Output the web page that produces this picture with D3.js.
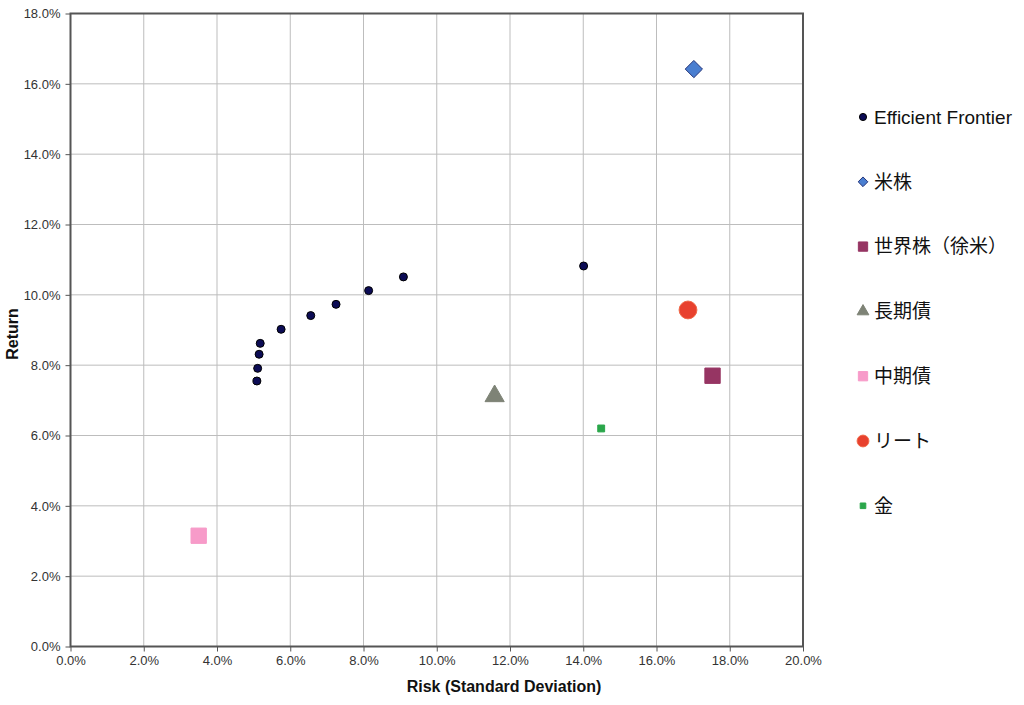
<!DOCTYPE html>
<html>
<head>
<meta charset="utf-8">
<script src="https://cdn.jsdelivr.net/npm/d3@7"></script>
<style>
  body { margin: 0; background: #fff; }
  .tick text { font-family: "Liberation Sans", Arial, sans-serif; font-size: 13px; fill: #333; }
  .axisText { font-family: "Liberation Sans", Arial, sans-serif; font-size: 16px; font-weight: bold; fill: #111; }
  .legendText { font-family: "Liberation Sans", "Noto Sans CJK JP", sans-serif; font-size: 19px; fill: #111; }
</style>
</head>
<body>
<div id="scatter"></div>
<script>
// Efficient frontier points (risk, return in %)
var frontierRisk = [5.09, 5.11, 5.15, 5.18, 5.75, 6.56, 7.25, 8.14, 9.09, 14.01];
var frontierReturn = [7.55, 7.91, 8.31, 8.62, 9.02, 9.41, 9.73, 10.12, 10.51, 10.82];

// Single asset classes
var assetNames = ["米株", "世界株（徐米）", "長期債", "中期債", "リート", "金"];
var assetRisk = [17.02, 17.53, 11.58, 3.50, 16.86, 14.49];
var assetReturn = [16.42, 7.70, 7.12, 3.15, 9.57, 6.20];

var legendLabels = ["Efficient Frontier", "米株", "世界株（徐米）", "長期債", "中期債", "リート", "金"];

var xTicks = [0, 2, 4, 6, 8, 10, 12, 14, 16, 18, 20];
var yTicks = [0, 2, 4, 6, 8, 10, 12, 14, 16, 18];

var svgWidth = 1024;
var svgHeight = 705;

var margin = { top: 13.5, right: 221, bottom: 58.5, left: 70.5 };
var width = svgWidth - margin.left - margin.right;
var height = svgHeight - margin.top - margin.bottom;

var svg = d3.select("#scatter")
  .append("svg")
  .attr("width", svgWidth)
  .attr("height", svgHeight);

var chartGroup = svg.append("g")
  .attr("transform", `translate(${margin.left}, ${margin.top})`);

var xScale = d3.scaleLinear().domain([0, 20]).range([0, width]);
var yScale = d3.scaleLinear().domain([0, 18]).range([height, 0]);

// grid lines
chartGroup.append("g")
  .selectAll("line")
  .data(xTicks.slice(1, -1))
  .enter()
  .append("line")
  .attr("x1", d => xScale(d)).attr("x2", d => xScale(d))
  .attr("y1", 0).attr("y2", height)
  .attr("stroke", "#bdbdbd").attr("stroke-width", 1);

chartGroup.append("g")
  .selectAll("line")
  .data(yTicks.slice(1, -1))
  .enter()
  .append("line")
  .attr("x1", 0).attr("x2", width)
  .attr("y1", d => yScale(d)).attr("y2", d => yScale(d))
  .attr("stroke", "#bdbdbd").attr("stroke-width", 1);

// frame
chartGroup.append("rect")
  .attr("width", width).attr("height", height)
  .attr("fill", "none").attr("stroke", "#555").attr("stroke-width", 2);

var fmt = d => d.toFixed(1) + "%";

var bottomAxis = d3.axisBottom(xScale).tickValues(xTicks).tickFormat(fmt).tickSize(5).tickPadding(4);
var leftAxis = d3.axisLeft(yScale).tickValues(yTicks).tickFormat(fmt).tickSize(5).tickPadding(5);

var xg = chartGroup.append("g")
  .attr("transform", `translate(0, ${height})`)
  .call(bottomAxis);
var yg = chartGroup.append("g").call(leftAxis);
[xg, yg].forEach(function(g) {
  g.select(".domain").remove();
  g.selectAll(".tick line").attr("stroke", "#555");
});

// symbols
function shape(type, size) {
  return d3.symbol().type(type).size(size)();
}

var frontier = frontierRisk.map((r, i) => ({ risk: r, ret: frontierReturn[i] }));

chartGroup.selectAll(".ef")
  .data(frontier)
  .enter()
  .append("circle")
  .attr("class", "ef")
  .attr("cx", d => xScale(d.risk))
  .attr("cy", d => yScale(d.ret))
  .attr("r", 4)
  .attr("fill", "#0c0c55")
  .attr("stroke", "#000")
  .attr("stroke-width", 1);

var styles = [
  { type: d3.symbolDiamond2, size: 190, fill: "#4a7ed0", stroke: "#26357a" },
  { type: d3.symbolSquare2, size: 300, fill: "#963563", stroke: "#963563" },
  { type: d3.symbolTriangle, size: 160, fill: "#7e8376", stroke: "#7e8376" },
  { type: d3.symbolSquare2, size: 300, fill: "#f79bc9", stroke: "#f79bc9" },
  { type: d3.symbolCircle, size: 250, fill: "#e8412e", stroke: "#f06a4a" },
  { type: d3.symbolSquare2, size: 60, fill: "#2aa64a", stroke: "#2aa64a" }
];

var assets = assetNames.map((n, i) => ({ name: n, risk: assetRisk[i], ret: assetReturn[i], s: styles[i] }));

chartGroup.selectAll(".asset")
  .data(assets)
  .enter()
  .append("path")
  .attr("class", "asset")
  .attr("transform", d => "translate(" + xScale(d.risk) + "," + yScale(d.ret) + ")")
  .attr("d", d => shape(d.s.type, d.s.size))
  .attr("fill", d => d.s.fill)
  .attr("stroke", d => d.s.stroke)
  .attr("stroke-width", 1);

// legend
var legendStyles = [
  { type: d3.symbolCircle, size: 40, fill: "#0c0c55", stroke: "#000" },
  { type: d3.symbolDiamond2, size: 60, fill: "#4a7ed0", stroke: "#26357a" },
  { type: d3.symbolSquare2, size: 110, fill: "#963563", stroke: "#963563" },
  { type: d3.symbolTriangle, size: 60, fill: "#7e8376", stroke: "#7e8376" },
  { type: d3.symbolSquare2, size: 110, fill: "#f79bc9", stroke: "#f79bc9" },
  { type: d3.symbolCircle, size: 110, fill: "#e8412e", stroke: "#f06a4a" },
  { type: d3.symbolSquare2, size: 40, fill: "#2aa64a", stroke: "#2aa64a" }
];

var legend = svg.append("g").attr("transform", "translate(863, 117)");
var items = legend.selectAll("g")
  .data(legendLabels)
  .enter()
  .append("g")
  .attr("transform", (d, i) => "translate(0," + (i * 64.8) + ")");

items.append("path")
  .attr("d", (d, i) => shape(legendStyles[i].type, legendStyles[i].size))
  .attr("fill", (d, i) => legendStyles[i].fill)
  .attr("stroke", (d, i) => legendStyles[i].stroke);

items.append("text")
  .attr("class", "legendText")
  .attr("x", 11)
  .attr("dy", "0.36em")
  .text(d => d);

// axis labels
svg.append("text")
  .attr("transform", "rotate(-90)")
  .attr("x", -334)
  .attr("y", 18)
  .attr("text-anchor", "middle")
  .attr("class", "axisText")
  .text("Return");

svg.append("text")
  .attr("x", 504)
  .attr("y", 692)
  .attr("text-anchor", "middle")
  .attr("class", "axisText")
  .text("Risk (Standard Deviation)");
</script>
</body>
</html>
